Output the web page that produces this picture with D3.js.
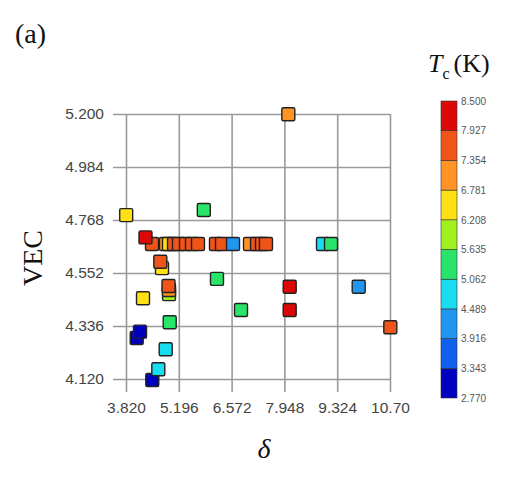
<!DOCTYPE html>
<html><head><meta charset="utf-8">
<script src="https://cdn.jsdelivr.net/npm/d3@7"></script>
<style>body{margin:0;background:#fff}svg{display:block}</style>
</head><body>
<svg id="c" width="521" height="489"></svg>
<script>
// ---- data (drawing order matters for overlaps) ----
const delta = [3.825, 8.050, 5.848,
  4.498, 4.862, 4.941, 5.071, 5.201, 5.384, 5.540, 5.696, 6.165, 6.322, 6.609, 7.052, 7.234, 7.364, 7.468, 8.954, 9.163,
  4.328, 4.758, 4.714, 6.191, 8.086, 8.086, 4.941, 4.941, 4.928, 4.263, 6.817, 4.959,
  4.099, 4.185, 4.855, 4.505, 4.662, 9.884, 10.708];
const vec = [4.788, 5.199, 4.809,
  4.670, 4.670, 4.670, 4.670, 4.670, 4.670, 4.670, 4.670, 4.670, 4.670, 4.670, 4.670, 4.670, 4.670, 4.670, 4.670, 4.670,
  4.697, 4.572, 4.598, 4.528, 4.496, 4.401, 4.466, 4.483, 4.499, 4.449, 4.401, 4.351,
  4.287, 4.313, 4.241, 4.116, 4.160, 4.496, 4.331];
const tc = [6.5, 7.0, 5.3,
  7.6, 7.0, 6.5, 7.6, 7.6, 7.6, 7.6, 7.6, 7.6, 7.6, 4.2, 7.0, 7.6, 7.6, 7.6, 4.8, 5.3,
  8.2, 6.5, 7.6, 5.3, 8.2, 8.2, 5.9, 7.0, 7.6, 6.5, 5.3, 5.3,
  3.0, 3.0, 4.8, 3.0, 4.8, 4.2, 7.6];
const xTickLabels = ["3.820", "5.196", "6.572", "7.948", "9.324", "10.70"];
const yTickLabels = ["4.120", "4.336", "4.552", "4.768", "4.984", "5.200"];
const cbTickLabels = ["2.770", "3.343", "3.916", "4.489", "5.062", "5.635", "6.208", "6.781", "7.354", "7.927", "8.500"];
const palette = ["#0000c0", "#1060f0", "#2096f0", "#18dcf0", "#28e468", "#a0f020", "#ffe014", "#ff9424", "#f05418", "#dc0808"];

const svg = d3.select("#c");
const x = d3.scaleLinear().domain([3.820, 10.70]).range([126, 390]);
const y = d3.scaleLinear().domain([4.120, 5.200]).range([379, 114]);
const color = d3.scaleQuantize().domain([2.770, 8.500]).range(palette);

const gridColor = "#9a9a9a";
// vertical grid (with bottom tick stubs)
const xAxis = d3.axisBottom(x).tickValues(xTickLabels.map(Number))
  .tickFormat((d, i) => xTickLabels[i]).tickSize(379 - 114 + 13).tickSizeOuter(0).tickPadding(10);
const gx = svg.append("g").attr("transform", "translate(0,114)").call(xAxis);
gx.select(".domain").remove();
gx.selectAll("line").attr("stroke", gridColor).attr("stroke-width", 1.6);
gx.selectAll("text").attr("font-family", "Liberation Sans, Arial, sans-serif")
  .attr("font-size", 15.5).attr("fill", "#444");

const yAxis = d3.axisLeft(y).tickValues(yTickLabels.map(Number))
  .tickFormat((d, i) => yTickLabels[i]).tickSize(390 - 113).tickSizeOuter(0).tickPadding(9);
const gy = svg.append("g").attr("transform", "translate(390,0)").call(yAxis);
gy.select(".domain").remove();
gy.selectAll("line").attr("stroke", gridColor).attr("stroke-width", 1.6);
gy.selectAll("text").attr("font-family", "Liberation Sans, Arial, sans-serif")
  .attr("font-size", 15.5).attr("fill", "#444");

// markers
const S = 13;
svg.append("g").selectAll("rect").data(d3.range(delta.length)).join("rect")
  .attr("x", i => x(delta[i]) - S / 2)
  .attr("y", i => y(vec[i]) - S / 2)
  .attr("width", S).attr("height", S).attr("rx", 1.5)
  .attr("fill", i => color(tc[i]))
  .attr("stroke", "#222").attr("stroke-width", 1.4);

// axis titles
svg.append("text").attr("transform", "translate(42,258) rotate(-90)")
  .attr("text-anchor", "middle").attr("font-family", "Liberation Serif, Times New Roman, serif")
  .attr("font-size", 28).attr("fill", "#111").text("VEC");
svg.append("text").attr("x", 264).attr("y", 458).attr("text-anchor", "middle")
  .attr("font-family", "Liberation Serif, Times New Roman, serif").attr("font-style", "italic")
  .attr("font-size", 28).attr("fill", "#111").text("δ");
svg.append("text").attr("x", 15).attr("y", 43)
  .attr("font-family", "Liberation Serif, Times New Roman, serif")
  .attr("font-size", 28).attr("fill", "#111").text("(a)");

// colorbar
const cb = d3.scaleLinear().domain([2.770, 8.500]).range([398, 101]);
const cbX = 441, cbW = 16;
const bounds = cbTickLabels.map(Number);
svg.append("g").selectAll("rect").data(d3.range(bounds.length - 1)).join("rect")
  .attr("x", cbX).attr("width", cbW)
  .attr("y", i => cb(bounds[i + 1])).attr("height", i => cb(bounds[i]) - cb(bounds[i + 1]))
  .attr("fill", i => palette[i]).attr("stroke", "#333").attr("stroke-width", 0.6);
const cbAxis = d3.axisRight(cb).tickValues(bounds).tickFormat((d, i) => cbTickLabels[i])
  .tickSize(0).tickPadding(4);
const gc = svg.append("g").attr("transform", `translate(${cbX + cbW},0)`).call(cbAxis);
gc.select(".domain").remove();
gc.selectAll("text").attr("font-family", "Liberation Sans, Arial, sans-serif")
  .attr("font-size", 10).attr("fill", "#555");

// colorbar title
const t = svg.append("text").attr("x", 428).attr("y", 72)
  .attr("font-family", "Liberation Serif, Times New Roman, serif").attr("font-size", 26).attr("fill", "#111");
t.append("tspan").attr("font-style", "italic").text("T");
t.append("tspan").attr("font-size", 16).attr("dy", 7).text("c");
t.append("tspan").attr("dy", -7).attr("dx", 4).text("(K)");
</script>
</body></html>
